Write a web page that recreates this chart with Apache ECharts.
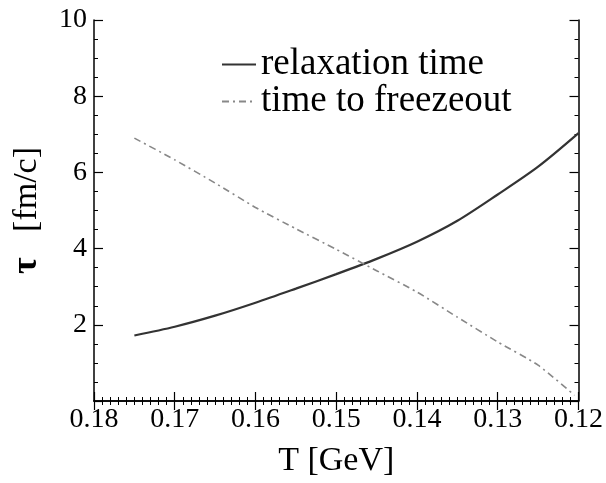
<!DOCTYPE html>
<html>
<head>
<meta charset="utf-8">
<script src="https://cdn.jsdelivr.net/npm/echarts@6/dist/echarts.min.js"></script>
<style>html,body{margin:0;padding:0;background:#fff;}#c{width:606px;height:483px;}</style>
</head>
<body>
<div id="c"></div>
<script>
var temps = [0.175, 0.17, 0.165, 0.16, 0.155, 0.15, 0.145, 0.14, 0.135, 0.13, 0.125, 0.12];
var relaxation = [1.72, 1.95, 2.24, 2.58, 2.95, 3.33, 3.73, 4.18, 4.73, 5.42, 6.15, 7.03];
var freezeTemps = [0.175, 0.17, 0.165, 0.16, 0.155, 0.15, 0.145, 0.14, 0.135, 0.13, 0.125, 0.1205];
var freezeout = [6.9, 6.33, 5.72, 5.08, 4.52, 3.98, 3.42, 2.86, 2.2, 1.55, 0.94, 0.15];
var xTicks = [0.12, 0.13, 0.14, 0.15, 0.16, 0.17, 0.18];
var yTicks = [0, 2, 4, 6, 8, 10];
var seriesNames = ['relaxation time', 'time to freezeout'];

var FONT = 'Liberation Serif';
function pairs(xs, ys) { return xs.map(function (x, i) { return [x, ys[i]]; }); }

var axisCommonX = {
  type: 'value', inverse: true, min: xTicks[0], max: xTicks[xTicks.length - 1], interval: 0.01,
  axisLine: { show: true, lineStyle: { color: '#000', width: 1.5 } },
  axisTick: { show: true, inside: true, length: 9, lineStyle: { color: '#000', width: 1.2 } },
  minorTick: { show: true, splitNumber: 10, length: 4, lineStyle: { color: '#000', width: 1 } },
  splitLine: { show: false }
};
var axisCommonY = {
  type: 'value', min: yTicks[0], max: yTicks[yTicks.length - 1], interval: 2,
  axisLine: { show: true, lineStyle: { color: '#000', width: 1.5 } },
  axisTick: { show: true, inside: true, length: 9, lineStyle: { color: '#000', width: 1.2 } },
  minorTick: { show: true, splitNumber: 4, length: 4, lineStyle: { color: '#000', width: 1 } },
  splitLine: { show: false }
};

var chart = echarts.init(document.getElementById('c'));
chart.setOption({
  backgroundColor: '#fff',
  animation: false,
  grid: { left: 94, right: 27, top: 20, bottom: 78 },
  legend: {
    orient: 'vertical', left: 216, top: 41, itemWidth: 34, itemHeight: 12, itemGap: 0,
    itemStyle: { opacity: 0 },
    textStyle: { fontFamily: FONT, fontSize: 37, color: '#000', lineHeight: 35 },
    data: seriesNames
  },
  xAxis: [
    Object.assign({}, axisCommonX, {
      position: 'bottom',
      axisLabel: { show: true, margin: 5, fontFamily: FONT, fontSize: 28, color: '#000',
        formatter: function (v) { return v.toFixed(2); } },
      name: 'T [GeV]', nameLocation: 'middle', nameGap: 43,
      nameTextStyle: { fontFamily: FONT, fontSize: 34, color: '#000' }
    }),
    Object.assign({}, axisCommonX, { position: 'top', axisLabel: { show: false } })
  ],
  yAxis: [
    Object.assign({}, axisCommonY, {
      position: 'left',
      axisLabel: { show: true, margin: 7, fontFamily: FONT, fontSize: 28, color: '#000',
        formatter: function (v) { return v === 0 ? '' : String(v); } },
      name: '{t|τ}   [fm/c]', nameLocation: 'middle', nameGap: 49, nameRotate: 90,
      nameTextStyle: { fontFamily: FONT, fontSize: 34, color: '#000',
        rich: { t: { fontFamily: FONT, fontSize: 36, fontWeight: 'bold', color: '#000' } } }
    }),
    Object.assign({}, axisCommonY, { position: 'right', axisLabel: { show: false } })
  ],
  series: [
    {
      name: seriesNames[0], type: 'line', smooth: 0.3, symbol: 'none',
      xAxisIndex: 0, yAxisIndex: 0,
      data: pairs(temps, relaxation),
      lineStyle: { color: '#333', width: 2.2 }, itemStyle: { color: '#333' }
    },
    {
      name: seriesNames[1], type: 'line', smooth: 0.2, symbol: 'none',
      xAxisIndex: 0, yAxisIndex: 0,
      data: pairs(freezeTemps, freezeout),
      lineStyle: { color: '#888', width: 1.6, type: [7, 4, 2, 4] }, itemStyle: { color: '#888' }
    }
  ]
});
</script>
</body>
</html>
